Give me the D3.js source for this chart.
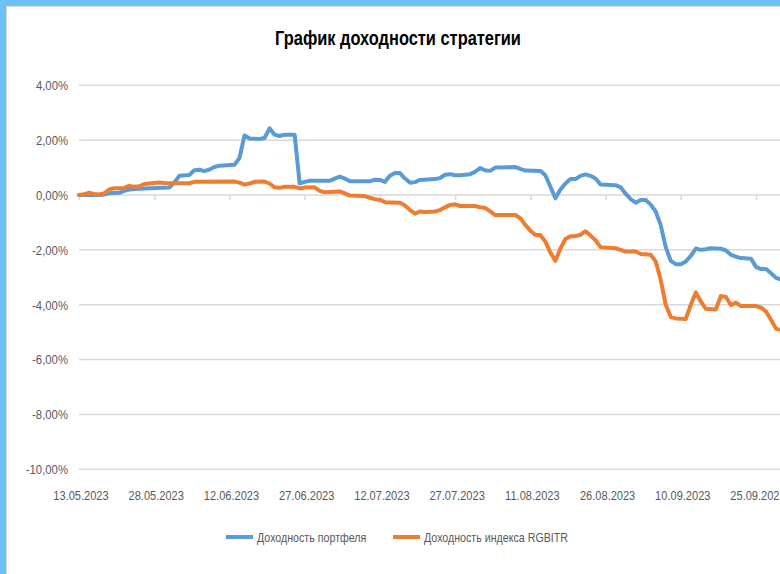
<!DOCTYPE html>
<html>
<head>
<meta charset="utf-8">
<script src="https://cdn.jsdelivr.net/npm/d3@7"></script>
<style>
  body { margin: 0; background: #fff; }
  svg { display: block; }
  text { font-family: "Liberation Sans", Arial, sans-serif; }
</style>
</head>
<body>
<svg id="chart" width="780" height="574"></svg>
<script>
const chartTitle = "График доходности стратегии";
const seriesNames = ["Доходность портфеля", "Доходность индекса RGBITR"];
const seriesColors = ["#5B9BD5", "#ED7D31"];

const xTickLabels = ["13.05.2023","28.05.2023","12.06.2023","27.06.2023","12.07.2023",
  "27.07.2023","11.08.2023","26.08.2023","10.09.2023","25.09.2023"];
const yTicks = [4, 2, 0, -2, -4, -6, -8, -10];

// доходность портфеля, %
const portfolioDates = ["13.05.2023","17.05.2023","18.05.2023","19.05.2023","21.05.2023","22.05.2023",
  "23.05.2023","26.05.2023","31.05.2023","01.06.2023","02.06.2023","04.06.2023","05.06.2023",
  "06.06.2023","07.06.2023","08.06.2023","09.06.2023","10.06.2023","13.06.2023","14.06.2023",
  "15.06.2023","16.06.2023","18.06.2023","19.06.2023","20.06.2023","21.06.2023","22.06.2023",
  "23.06.2023","25.06.2023","26.06.2023","27.06.2023","28.06.2023","02.07.2023","03.07.2023",
  "04.07.2023","05.07.2023","06.07.2023","10.07.2023","11.07.2023","12.07.2023","13.07.2023",
  "14.07.2023","15.07.2023","16.07.2023","17.07.2023","18.07.2023","19.07.2023","20.07.2023",
  "23.07.2023","24.07.2023","25.07.2023","26.07.2023","27.07.2023","28.07.2023","30.07.2023",
  "31.07.2023","01.08.2023","02.08.2023","03.08.2023","04.08.2023","08.08.2023","09.08.2023",
  "10.08.2023","13.08.2023","14.08.2023","15.08.2023","16.08.2023","17.08.2023","18.08.2023",
  "19.08.2023","20.08.2023","21.08.2023","22.08.2023","23.08.2023","24.08.2023","25.08.2023",
  "28.08.2023","29.08.2023","30.08.2023","31.08.2023","01.09.2023","02.09.2023","03.09.2023",
  "04.09.2023","05.09.2023","06.09.2023","07.09.2023","08.09.2023","09.09.2023","10.09.2023",
  "11.09.2023","12.09.2023","13.09.2023","14.09.2023","15.09.2023","16.09.2023","18.09.2023",
  "19.09.2023","20.09.2023","21.09.2023","22.09.2023","24.09.2023","25.09.2023","26.09.2023",
  "27.09.2023","28.09.2023","29.09.2023","30.09.2023"];
const portfolioReturns = [0, 0, 0.02, 0.06, 0.08, 0.15,
  0.2, 0.24, 0.27, 0.45, 0.7, 0.73, 0.9,
  0.92, 0.87, 0.93, 1.02, 1.07, 1.1, 1.35,
  2.17, 2.06, 2.04, 2.08, 2.43, 2.2, 2.15,
  2.2, 2.2, 0.42, 0.48, 0.52, 0.52, 0.6,
  0.67, 0.6, 0.5, 0.5, 0.56, 0.55, 0.48,
  0.7, 0.8, 0.8, 0.6, 0.45, 0.47, 0.55,
  0.58, 0.62, 0.74, 0.76, 0.72, 0.72, 0.76,
  0.85, 0.98, 0.9, 0.88, 1.0, 1.02, 0.95,
  0.89, 0.88, 0.72, 0.3, -0.12, 0.2, 0.42,
  0.58, 0.58, 0.7, 0.75, 0.7, 0.6, 0.38,
  0.36, 0.28, 0.05, -0.15, -0.28, -0.18, -0.18,
  -0.35, -0.6, -1.1, -1.9, -2.4, -2.52, -2.52,
  -2.42, -2.22, -1.95, -2.0, -1.98, -1.94, -1.96,
  -2.02, -2.18, -2.25, -2.3, -2.32, -2.62, -2.7,
  -2.7, -2.85, -3.02, -3.08];

// доходность индекса RGBITR, %
const indexDates = ["13.05.2023","14.05.2023","15.05.2023","16.05.2023","17.05.2023","18.05.2023",
  "19.05.2023","20.05.2023","22.05.2023","23.05.2023","24.05.2023","25.05.2023","26.05.2023",
  "29.05.2023","30.05.2023","04.06.2023","05.06.2023","13.06.2023","14.06.2023","15.06.2023",
  "16.06.2023","17.06.2023","19.06.2023","20.06.2023","21.06.2023","22.06.2023","23.06.2023",
  "25.06.2023","26.06.2023","27.06.2023","29.06.2023","30.06.2023","01.07.2023","04.07.2023",
  "05.07.2023","06.07.2023","09.07.2023","10.07.2023","11.07.2023","12.07.2023","13.07.2023",
  "16.07.2023","17.07.2023","18.07.2023","19.07.2023","20.07.2023","21.07.2023","23.07.2023",
  "24.07.2023","25.07.2023","26.07.2023","27.07.2023","28.07.2023","31.07.2023","01.08.2023",
  "02.08.2023","03.08.2023","04.08.2023","08.08.2023","09.08.2023","10.08.2023","11.08.2023",
  "12.08.2023","13.08.2023","14.08.2023","15.08.2023","16.08.2023","17.08.2023","18.08.2023",
  "19.08.2023","20.08.2023","21.08.2023","22.08.2023","23.08.2023","24.08.2023","25.08.2023",
  "28.08.2023","29.08.2023","30.08.2023","01.09.2023","02.09.2023","04.09.2023","05.09.2023",
  "06.09.2023","07.09.2023","08.09.2023","09.09.2023","11.09.2023","12.09.2023","13.09.2023",
  "14.09.2023","15.09.2023","17.09.2023","18.09.2023","19.09.2023","20.09.2023","21.09.2023",
  "22.09.2023","25.09.2023","26.09.2023","27.09.2023","28.09.2023","29.09.2023","30.09.2023"];
const indexReturns = [0, 0.03, 0.08, 0.04, 0.02, 0.06,
  0.2, 0.25, 0.26, 0.33, 0.3, 0.32, 0.4,
  0.46, 0.44, 0.43, 0.48, 0.49, 0.45, 0.38,
  0.42, 0.48, 0.49, 0.42, 0.28, 0.26, 0.3,
  0.3, 0.24, 0.27, 0.28, 0.15, 0.1, 0.13,
  0.06, -0.02, -0.04, -0.1, -0.15, -0.18, -0.26,
  -0.28, -0.38, -0.55, -0.68, -0.6, -0.62, -0.6,
  -0.55, -0.45, -0.36, -0.34, -0.4, -0.4, -0.45,
  -0.47, -0.6, -0.73, -0.73, -0.85, -1.09, -1.3,
  -1.46, -1.46, -1.7, -2.1, -2.4, -1.95, -1.6,
  -1.5, -1.5, -1.45, -1.32, -1.48, -1.65, -1.9,
  -1.94, -2.0, -2.06, -2.06, -2.15, -2.18, -2.42,
  -3.1, -4.0, -4.45, -4.5, -4.52, -4.0, -3.55,
  -3.88, -4.15, -4.17, -3.68, -3.72, -4.02, -3.92,
  -4.05, -4.05, -4.1, -4.25, -4.55, -4.88, -4.92];

const parseDate = d3.utcParse("%d.%m.%Y");
const svg = d3.select("#chart");
const W = 780, H = 574;
const narrow = 0.82; // узкий шрифт, как Calibri/Arial Narrow

// рамка скриншота
svg.append("rect").attr("x", 0).attr("y", 0).attr("width", W).attr("height", 6).attr("fill", "#6EC1F6");
svg.append("rect").attr("x", 0).attr("y", 0).attr("width", 6).attr("height", H).attr("fill", "#6EC1F6");
svg.append("rect").attr("x", 6).attr("y", 6).attr("width", W).attr("height", 1).attr("fill", "#D9D9D9");
svg.append("rect").attr("x", 6).attr("y", 6).attr("width", 1).attr("height", H).attr("fill", "#D9D9D9");

const x = d3.scaleUtc()
  .domain([parseDate(xTickLabels[0]), parseDate(xTickLabels[xTickLabels.length - 1])])
  .range([79, 756]);
const y = d3.scaleLinear().domain([-10, 4]).range([469.3, 85.3]);

// сетка
svg.append("g").selectAll("line").data(yTicks).enter().append("line")
  .attr("x1", 79).attr("x2", W)
  .attr("y1", d => y(d)).attr("y2", d => y(d))
  .attr("stroke", "#D9D9D9").attr("stroke-width", 1.5);

const fmtPct = d => d3.format(".2f")(d).replace(".", ",").replace("−", "-") + "%";
svg.append("g").selectAll("text").data(yTicks).enter().append("text")
  .attr("transform", d => `translate(68,${y(d) + 4.8}) scale(0.84,1)`)
  .attr("text-anchor", "end")
  .attr("font-size", 13.5).attr("fill", "#595959")
  .text(fmtPct);

// ось X
const xAxis = d3.axisBottom(x)
  .tickValues(xTickLabels.map(parseDate))
  .tickSize(5)
  .tickFormat("");
const gx = svg.append("g").attr("transform", `translate(0,${y(0)})`).call(xAxis);
gx.select(".domain").remove();
gx.selectAll(".tick line").attr("stroke", "#D9D9D9").attr("stroke-width", 1.5);

svg.append("g").selectAll("text").data(xTickLabels).enter().append("text")
  .attr("transform", d => `translate(${x(parseDate(d)) + 2},500) scale(${narrow},1)`)
  .attr("text-anchor", "middle")
  .attr("font-size", 13.5).attr("fill", "#595959")
  .text(d => d);

// линии
const line = d3.line().x(d => x(d[0])).y(d => y(d[1]));
const series = [
  d3.zip(portfolioDates.map(parseDate), portfolioReturns),
  d3.zip(indexDates.map(parseDate), indexReturns)
];
svg.append("defs").append("clipPath").attr("id", "clip")
  .append("rect").attr("x", 0).attr("y", 0).attr("width", W).attr("height", H);
svg.append("g").attr("clip-path", "url(#clip)")
  .selectAll("path").data(series).enter().append("path")
  .attr("d", line)
  .attr("fill", "none")
  .attr("stroke", (d, i) => seriesColors[i])
  .attr("stroke-width", 4)
  .attr("stroke-linejoin", "round")
  .attr("stroke-linecap", "round");

// заголовок
const title = svg.append("text")
  .attr("text-anchor", "middle")
  .attr("font-size", 21).attr("font-weight", "bold").attr("fill", "#000")
  .text(chartTitle);
const tw = title.node().getComputedTextLength();
title.attr("transform", `translate(398,45) scale(${246 / tw},1)`);

// легенда
const legendX = [226, 393];
const lg = svg.append("g").selectAll("g").data(seriesNames).enter().append("g")
  .attr("transform", (d, i) => `translate(${legendX[i]},537)`);
lg.append("line").attr("x1", 0).attr("x2", 27).attr("y1", 0).attr("y2", 0)
  .attr("stroke", (d, i) => seriesColors[i]).attr("stroke-width", 4);
lg.append("text")
  .attr("transform", `translate(31,4.5) scale(${narrow},1)`)
  .attr("font-size", 13).attr("fill", "#595959")
  .text(d => d);
</script>
</body>
</html>
